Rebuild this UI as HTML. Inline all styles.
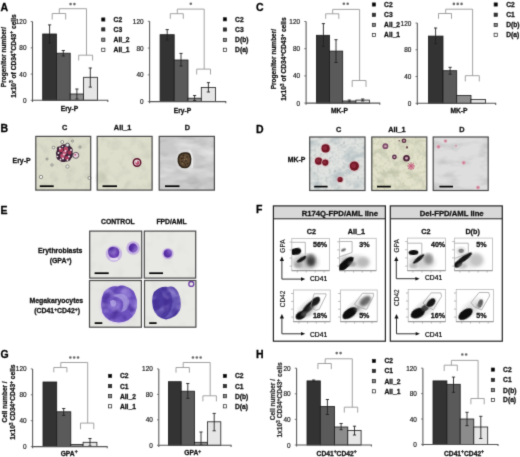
<!DOCTYPE html>
<html><head><meta charset="utf-8"><style>
html,body{margin:0;padding:0;background:#fff;}
svg{display:block;will-change:transform;}
</style></head><body>
<svg width="520" height="457" viewBox="0 0 520 457" font-family="'Liberation Sans', sans-serif">
<defs><filter id="gblur" x="0" y="0" width="520" height="457" filterUnits="userSpaceOnUse" color-interpolation-filters="sRGB"><feConvolveMatrix order="3" kernelMatrix="0.03 0.17 0.03 0.17 1 0.17 0.03 0.17 0.03" divisor="1.8" edgeMode="duplicate"/></filter><filter id="tB1" x="0" y="0" width="100%" height="100%" color-interpolation-filters="sRGB"><feTurbulence type="fractalNoise" baseFrequency="0.12 0.12" numOctaves="3" seed="5"/><feColorMatrix type="matrix" values="0 0 0 0 0.765  0 0 0 0 0.776  0 0 0 0 0.706  1.4 0 0 0 -0.62"/></filter><filter id="tB2" x="0" y="0" width="100%" height="100%" color-interpolation-filters="sRGB"><feTurbulence type="fractalNoise" baseFrequency="0.1 0.1" numOctaves="3" seed="8"/><feColorMatrix type="matrix" values="0 0 0 0 0.765  0 0 0 0 0.776  0 0 0 0 0.706  1.4 0 0 0 -0.62"/></filter><filter id="tB3" x="0" y="0" width="100%" height="100%" color-interpolation-filters="sRGB"><feTurbulence type="fractalNoise" baseFrequency="0.04 0.09" numOctaves="3" seed="11"/><feColorMatrix type="matrix" values="0 0 0 0 0.882  0 0 0 0 0.882  0 0 0 0 0.882  2.4 0 0 0 -1.0"/></filter><filter id="tB3d" x="0" y="0" width="100%" height="100%" color-interpolation-filters="sRGB"><feTurbulence type="fractalNoise" baseFrequency="0.05 0.1" numOctaves="3" seed="21"/><feColorMatrix type="matrix" values="0 0 0 0 0.686  0 0 0 0 0.686  0 0 0 0 0.686  2.0 0 0 0 -0.9"/></filter><filter id="tD1" x="0" y="0" width="100%" height="100%" color-interpolation-filters="sRGB"><feTurbulence type="fractalNoise" baseFrequency="0.07 0.1" numOctaves="4" seed="2"/><feColorMatrix type="matrix" values="0 0 0 0 0.627  0 0 0 0 0.686  0 0 0 0 0.714  1.9 0 0 0 -0.88"/></filter><filter id="tD1b" x="0" y="0" width="100%" height="100%" color-interpolation-filters="sRGB"><feTurbulence type="fractalNoise" baseFrequency="0.35 0.35" numOctaves="2" seed="4"/><feColorMatrix type="matrix" values="0 0 0 0 0.725  0 0 0 0 0.745  0 0 0 0 0.745  1.6 0 0 0 -0.75"/></filter><filter id="tD2" x="0" y="0" width="100%" height="100%" color-interpolation-filters="sRGB"><feTurbulence type="fractalNoise" baseFrequency="0.08 0.1" numOctaves="4" seed="7"/><feColorMatrix type="matrix" values="0 0 0 0 0.706  0 0 0 0 0.725  0 0 0 0 0.627  1.9 0 0 0 -0.88"/></filter><filter id="tD2b" x="0" y="0" width="100%" height="100%" color-interpolation-filters="sRGB"><feTurbulence type="fractalNoise" baseFrequency="0.35 0.35" numOctaves="2" seed="9"/><feColorMatrix type="matrix" values="0 0 0 0 0.765  0 0 0 0 0.753  0 0 0 0 0.647  1.6 0 0 0 -0.75"/></filter><filter id="tD3" x="0" y="0" width="100%" height="100%" color-interpolation-filters="sRGB"><feTurbulence type="fractalNoise" baseFrequency="0.05 0.12" numOctaves="3" seed="13"/><feColorMatrix type="matrix" values="0 0 0 0 0.765  0 0 0 0 0.765  0 0 0 0 0.765  2.2 0 0 0 -1.0"/></filter><filter id="tE" x="0" y="0" width="100%" height="100%" color-interpolation-filters="sRGB"><feTurbulence type="fractalNoise" baseFrequency="0.08 0.08" numOctaves="2" seed="17"/><feColorMatrix type="matrix" values="0 0 0 0 0.843  0 0 0 0 0.843  0 0 0 0 0.827  1.0 0 0 0 -0.5"/></filter><filter id="blur03"><feGaussianBlur stdDeviation="0.35"/></filter><filter id="blur06"><feGaussianBlur stdDeviation="0.6"/></filter><filter id="blur1"><feGaussianBlur stdDeviation="1"/></filter><filter id="blur15"><feGaussianBlur stdDeviation="1.5"/></filter><filter id="blur2"><feGaussianBlur stdDeviation="2"/></filter><filter id="mottle" x="0" y="0" width="100%" height="100%" color-interpolation-filters="sRGB"><feTurbulence type="fractalNoise" baseFrequency="0.11" numOctaves="2" seed="12" result="n"/><feColorMatrix in="n" type="matrix" values="0 0 0 0 0.25  0 0 0 0 0.15  0 0 0 0 0.55  1.8 0 0 0 -0.8" result="dk"/><feComposite in="dk" in2="SourceAlpha" operator="in" result="dk2"/><feTurbulence type="fractalNoise" baseFrequency="0.09" numOctaves="2" seed="31" result="n2"/><feColorMatrix in="n2" type="matrix" values="0 0 0 0 0.72  0 0 0 0 0.66  0 0 0 0 0.92  2.0 0 0 0 -0.95" result="lt"/><feComposite in="lt" in2="SourceAlpha" operator="in" result="lt2"/><feMerge><feMergeNode in="SourceGraphic"/><feMergeNode in="dk2"/><feMergeNode in="lt2"/></feMerge><feGaussianBlur stdDeviation="0.4"/></filter><filter id="grain" x="-20%" y="-20%" width="140%" height="140%"><feGaussianBlur in="SourceGraphic" stdDeviation="0.5" result="b"/><feTurbulence type="fractalNoise" baseFrequency="1.1" numOctaves="1" seed="4" result="n"/><feColorMatrix in="n" type="matrix" values="0 0 0 0 0  0 0 0 0 0  0 0 0 0 0  -3 0 0 0 2.3" result="m"/><feComposite in="b" in2="m" operator="in"/></filter><clipPath id="cp291238"><rect x="291.8" y="238.5" width="37.599999999999966" height="32.19999999999999"/></clipPath><clipPath id="cp339238"><rect x="339.4" y="238.3" width="36.80000000000001" height="32.39999999999998"/></clipPath><clipPath id="cp407238"><rect x="407.4" y="238.1" width="38.10000000000002" height="32.599999999999994"/></clipPath><clipPath id="cp454238"><rect x="454.4" y="238.1" width="38.10000000000002" height="32.599999999999994"/></clipPath><clipPath id="cp293290"><rect x="293.4" y="290.0" width="36.80000000000001" height="31.69999999999999"/></clipPath><clipPath id="cp340290"><rect x="340.4" y="290.0" width="36.80000000000001" height="31.69999999999999"/></clipPath><clipPath id="cp408289"><rect x="408.2" y="289.5" width="37.30000000000001" height="32.19999999999999"/></clipPath><clipPath id="cp456289"><rect x="456.2" y="289.5" width="37.30000000000001" height="32.19999999999999"/></clipPath></defs>
<rect width="520" height="457" fill="#fff"/>
<g filter="url(#gblur)">
<rect width="520" height="457" fill="#fff"/>
<rect x="42.7" y="34" width="13.699999999999996" height="66.3" fill="#333333" stroke="#1a1a1a" stroke-width="0.8"/>
<rect x="56.4" y="53.2" width="13.800000000000004" height="47.099999999999994" fill="#5a5a5a" stroke="#1a1a1a" stroke-width="0.8"/>
<rect x="70.2" y="94" width="13.399999999999991" height="6.299999999999997" fill="#8c8c8c" stroke="#1a1a1a" stroke-width="0.8"/>
<rect x="83.6" y="77.3" width="13.900000000000006" height="23.0" fill="#e6e6e6" stroke="#1a1a1a" stroke-width="0.8"/>
<path d="M49.6 24.9V43M48.0 24.9H51.2M48.0 43H51.2" stroke="#222" stroke-width="0.9" fill="none"/>
<path d="M63.3 50.5V56M61.699999999999996 50.5H64.89999999999999M61.699999999999996 56H64.89999999999999" stroke="#222" stroke-width="0.9" fill="none"/>
<path d="M76.9 89V99M75.30000000000001 89H78.5M75.30000000000001 99H78.5" stroke="#222" stroke-width="0.9" fill="none"/>
<path d="M90.3 68V87.1M88.7 68H91.89999999999999M88.7 87.1H91.89999999999999" stroke="#222" stroke-width="0.9" fill="none"/>
<path d="M32.5 21.6V101.89999999999999M32.5 100.3H107.8V101.89999999999999" stroke="#555" stroke-width="1.05" fill="none"/>
<path d="M30.7 100.30H32.5" stroke="#555" stroke-width="0.8"/>
<text transform="translate(26.50 102.80) scale(0.92 1)" font-size="7" text-anchor="end" font-weight="normal" fill="#1a1a1a" stroke="#1a1a1a" stroke-width="0.2">0</text>
<path d="M30.7 74.07H32.5" stroke="#555" stroke-width="0.8"/>
<text transform="translate(26.50 76.57) scale(0.92 1)" font-size="7" text-anchor="end" font-weight="normal" fill="#1a1a1a" stroke="#1a1a1a" stroke-width="0.2">40</text>
<path d="M30.7 47.83H32.5" stroke="#555" stroke-width="0.8"/>
<text transform="translate(26.50 50.33) scale(0.92 1)" font-size="7" text-anchor="end" font-weight="normal" fill="#1a1a1a" stroke="#1a1a1a" stroke-width="0.2">80</text>
<path d="M30.7 21.60H32.5" stroke="#555" stroke-width="0.8"/>
<text transform="translate(26.50 24.10) scale(0.92 1)" font-size="7" text-anchor="end" font-weight="normal" fill="#1a1a1a" stroke="#1a1a1a" stroke-width="0.2">120</text>
<path d="M52.2 19.5V13.5H65.7V19.5M59.3 13.5V8.7H86.5V55.2M78.7 60.5V55.2H92.6V60.5" stroke="#999" stroke-width="0.9" fill="none"/>
<circle cx="70.58" cy="4.1" r="1.3" fill="#6a6a6a"/>
<circle cx="74.42" cy="4.1" r="1.3" fill="#6a6a6a"/>
<rect x="101.7" y="17.9" width="3.2" height="3.2" fill="#000" stroke="#222" stroke-width="0.7"/>
<text x="113.6" y="21.9" font-size="6.7" text-anchor="start" font-weight="bold" fill="#111" stroke="#111" stroke-width="0.28" >C2</text>
<rect x="101.7" y="27.799999999999997" width="3.2" height="3.2" fill="#333" stroke="#222" stroke-width="0.7"/>
<text x="113.6" y="31.799999999999997" font-size="6.7" text-anchor="start" font-weight="bold" fill="#111" stroke="#111" stroke-width="0.28" >C3</text>
<rect x="101.7" y="38.1" width="3.2" height="3.2" fill="#888" stroke="#222" stroke-width="0.7"/>
<text x="113.6" y="42.1" font-size="6.7" text-anchor="start" font-weight="bold" fill="#111" stroke="#111" stroke-width="0.28" >AII_2</text>
<rect x="101.7" y="48.199999999999996" width="3.2" height="3.2" fill="#fff" stroke="#222" stroke-width="0.7"/>
<text x="113.6" y="52.199999999999996" font-size="6.7" text-anchor="start" font-weight="bold" fill="#111" stroke="#111" stroke-width="0.28" >AII_1</text>
<text x="69.5" y="111.3" font-size="6.7" text-anchor="middle" font-weight="bold" fill="#111" stroke="#111" stroke-width="0.28" >Ery-P</text>
<text transform="translate(5.6,57) rotate(-90)" font-size="6.5" text-anchor="middle" font-weight="bold" fill="#111" stroke="#111" stroke-width="0.25">Progenitor number/</text>
<text transform="translate(15.6,56) rotate(-90)" font-size="6.6" text-anchor="middle" font-weight="bold" fill="#111" stroke="#111" stroke-width="0.25">1x10<tspan font-size="5" dy="-2.4">3</tspan><tspan dy="2.4"> of CD34</tspan><tspan font-size="5" dy="-2.4">+</tspan><tspan dy="2.4">CD43</tspan><tspan font-size="5" dy="-2.4">+</tspan><tspan dy="2.4"> cells</tspan></text>
<rect x="160.1" y="34.7" width="14.099999999999994" height="66.89999999999999" fill="#333333" stroke="#1a1a1a" stroke-width="0.8"/>
<rect x="174.2" y="60" width="13.800000000000011" height="41.599999999999994" fill="#5a5a5a" stroke="#1a1a1a" stroke-width="0.8"/>
<rect x="188" y="98.2" width="13.300000000000011" height="3.3999999999999915" fill="#8c8c8c" stroke="#1a1a1a" stroke-width="0.8"/>
<rect x="201.3" y="87.5" width="14.199999999999989" height="14.099999999999994" fill="#e6e6e6" stroke="#1a1a1a" stroke-width="0.8"/>
<path d="M167.2 29.6V40M165.6 29.6H168.79999999999998M165.6 40H168.79999999999998" stroke="#222" stroke-width="0.9" fill="none"/>
<path d="M181 53.4V66M179.4 53.4H182.6M179.4 66H182.6" stroke="#222" stroke-width="0.9" fill="none"/>
<path d="M194.6 95.5V100.5M193.0 95.5H196.2M193.0 100.5H196.2" stroke="#222" stroke-width="0.9" fill="none"/>
<path d="M208.4 82.6V92M206.8 82.6H210.0M206.8 92H210.0" stroke="#222" stroke-width="0.9" fill="none"/>
<path d="M149.6 21.3V103.19999999999999M149.6 101.6H225.8V103.19999999999999" stroke="#555" stroke-width="1.05" fill="none"/>
<path d="M147.79999999999998 101.60H149.6" stroke="#555" stroke-width="0.8"/>
<text transform="translate(143.60 104.10) scale(0.92 1)" font-size="7" text-anchor="end" font-weight="normal" fill="#1a1a1a" stroke="#1a1a1a" stroke-width="0.2">0</text>
<path d="M147.79999999999998 74.83H149.6" stroke="#555" stroke-width="0.8"/>
<text transform="translate(143.60 77.33) scale(0.92 1)" font-size="7" text-anchor="end" font-weight="normal" fill="#1a1a1a" stroke="#1a1a1a" stroke-width="0.2">40</text>
<path d="M147.79999999999998 48.07H149.6" stroke="#555" stroke-width="0.8"/>
<text transform="translate(143.60 50.57) scale(0.92 1)" font-size="7" text-anchor="end" font-weight="normal" fill="#1a1a1a" stroke="#1a1a1a" stroke-width="0.2">80</text>
<path d="M147.79999999999998 21.30H149.6" stroke="#555" stroke-width="0.8"/>
<text transform="translate(143.60 23.80) scale(0.92 1)" font-size="7" text-anchor="end" font-weight="normal" fill="#1a1a1a" stroke="#1a1a1a" stroke-width="0.2">120</text>
<path d="M170.3 18.8V13.7H183.3V18.8M177.3 13.7V9.1H204.2V69.1M196.7 74.5V69.1H210.5V74.5" stroke="#999" stroke-width="0.9" fill="none"/>
<circle cx="190.80" cy="3.8" r="1.3" fill="#6a6a6a"/>
<rect x="223.3" y="17.7" width="3.2" height="3.2" fill="#000" stroke="#222" stroke-width="0.7"/>
<text x="235.1" y="21.7" font-size="6.7" text-anchor="start" font-weight="bold" fill="#111" stroke="#111" stroke-width="0.28" >C2</text>
<rect x="223.3" y="27.9" width="3.2" height="3.2" fill="#333" stroke="#222" stroke-width="0.7"/>
<text x="235.1" y="31.9" font-size="6.7" text-anchor="start" font-weight="bold" fill="#111" stroke="#111" stroke-width="0.28" >C3</text>
<rect x="223.3" y="38.3" width="3.2" height="3.2" fill="#888" stroke="#222" stroke-width="0.7"/>
<text x="235.1" y="42.3" font-size="6.7" text-anchor="start" font-weight="bold" fill="#111" stroke="#111" stroke-width="0.28" >D(b)</text>
<rect x="223.3" y="48.199999999999996" width="3.2" height="3.2" fill="#fff" stroke="#222" stroke-width="0.7"/>
<text x="235.1" y="52.199999999999996" font-size="6.7" text-anchor="start" font-weight="bold" fill="#111" stroke="#111" stroke-width="0.28" >D(a)</text>
<text x="182.5" y="112.7" font-size="6.7" text-anchor="middle" font-weight="bold" fill="#111" stroke="#111" stroke-width="0.28" >Ery-P</text>
<rect x="316.4" y="35.3" width="13.100000000000023" height="67.8" fill="#333333" stroke="#1a1a1a" stroke-width="0.8"/>
<rect x="329.5" y="51.1" width="13.199999999999989" height="51.99999999999999" fill="#5a5a5a" stroke="#1a1a1a" stroke-width="0.8"/>
<rect x="342.7" y="101" width="13.199999999999989" height="2.0999999999999943" fill="#8c8c8c" stroke="#1a1a1a" stroke-width="0.8"/>
<rect x="355.9" y="100.1" width="13.600000000000023" height="3.0" fill="#e6e6e6" stroke="#1a1a1a" stroke-width="0.8"/>
<path d="M323.4 23.6V46.4M321.79999999999995 23.6H325.0M321.79999999999995 46.4H325.0" stroke="#222" stroke-width="0.9" fill="none"/>
<path d="M336 39.7V62.5M334.4 39.7H337.6M334.4 62.5H337.6" stroke="#222" stroke-width="0.9" fill="none"/>
<path d="M349.3 100V102M347.7 100H350.90000000000003M347.7 102H350.90000000000003" stroke="#222" stroke-width="0.9" fill="none"/>
<path d="M362.7 99V101M361.09999999999997 99H364.3M361.09999999999997 101H364.3" stroke="#222" stroke-width="0.9" fill="none"/>
<path d="M306.1 21.5V104.69999999999999M306.1 103.1H379.8V104.69999999999999" stroke="#555" stroke-width="1.05" fill="none"/>
<path d="M304.3 103.10H306.1" stroke="#555" stroke-width="0.8"/>
<text transform="translate(300.10 105.60) scale(0.92 1)" font-size="7" text-anchor="end" font-weight="normal" fill="#1a1a1a" stroke="#1a1a1a" stroke-width="0.2">0</text>
<path d="M304.3 75.90H306.1" stroke="#555" stroke-width="0.8"/>
<text transform="translate(300.10 78.40) scale(0.92 1)" font-size="7" text-anchor="end" font-weight="normal" fill="#1a1a1a" stroke="#1a1a1a" stroke-width="0.2">40</text>
<path d="M304.3 48.70H306.1" stroke="#555" stroke-width="0.8"/>
<text transform="translate(300.10 51.20) scale(0.92 1)" font-size="7" text-anchor="end" font-weight="normal" fill="#1a1a1a" stroke="#1a1a1a" stroke-width="0.2">80</text>
<path d="M304.3 21.50H306.1" stroke="#555" stroke-width="0.8"/>
<text transform="translate(300.10 24.00) scale(0.92 1)" font-size="7" text-anchor="end" font-weight="normal" fill="#1a1a1a" stroke="#1a1a1a" stroke-width="0.2">120</text>
<path d="M325.7 18.8V13.8H338.8V18.8M332.7 13.8V9.4H359.6V80.5M352.2 86.9V80.5H366V86.9" stroke="#999" stroke-width="0.9" fill="none"/>
<circle cx="343.82" cy="3.8" r="1.3" fill="#6a6a6a"/>
<circle cx="347.68" cy="3.8" r="1.3" fill="#6a6a6a"/>
<rect x="372.29999999999995" y="2.9" width="3.2" height="3.2" fill="#000" stroke="#222" stroke-width="0.7"/>
<text x="384.1" y="6.9" font-size="6.7" text-anchor="start" font-weight="bold" fill="#111" stroke="#111" stroke-width="0.28" >C2</text>
<rect x="372.29999999999995" y="13.200000000000001" width="3.2" height="3.2" fill="#333" stroke="#222" stroke-width="0.7"/>
<text x="384.1" y="17.2" font-size="6.7" text-anchor="start" font-weight="bold" fill="#111" stroke="#111" stroke-width="0.28" >C3</text>
<rect x="372.29999999999995" y="23.299999999999997" width="3.2" height="3.2" fill="#888" stroke="#222" stroke-width="0.7"/>
<text x="384.1" y="27.299999999999997" font-size="6.7" text-anchor="start" font-weight="bold" fill="#111" stroke="#111" stroke-width="0.28" >AII_2</text>
<rect x="372.29999999999995" y="33.4" width="3.2" height="3.2" fill="#fff" stroke="#222" stroke-width="0.7"/>
<text x="384.1" y="37.4" font-size="6.7" text-anchor="start" font-weight="bold" fill="#111" stroke="#111" stroke-width="0.28" >AII_1</text>
<text x="339.5" y="113" font-size="6.7" text-anchor="middle" font-weight="bold" fill="#111" stroke="#111" stroke-width="0.28" >MK-P</text>
<text transform="translate(275.6,59.1) rotate(-90)" font-size="6.5" text-anchor="middle" font-weight="bold" fill="#111" stroke="#111" stroke-width="0.25">Progenitor number/</text>
<text transform="translate(286,59.1) rotate(-90)" font-size="6.6" text-anchor="middle" font-weight="bold" fill="#111" stroke="#111" stroke-width="0.25">1x10<tspan font-size="5" dy="-2.4">3</tspan><tspan dy="2.4"> of CD34</tspan><tspan font-size="5" dy="-2.4">+</tspan><tspan dy="2.4">CD43</tspan><tspan font-size="5" dy="-2.4">+</tspan><tspan dy="2.4"> cells</tspan></text>
<rect x="428.5" y="36.1" width="14.5" height="67.19999999999999" fill="#333333" stroke="#1a1a1a" stroke-width="0.8"/>
<rect x="443" y="70.7" width="13.699999999999989" height="32.599999999999994" fill="#5a5a5a" stroke="#1a1a1a" stroke-width="0.8"/>
<rect x="456.7" y="95.5" width="14.300000000000011" height="7.799999999999997" fill="#8c8c8c" stroke="#1a1a1a" stroke-width="0.8"/>
<rect x="471" y="99.5" width="14.399999999999977" height="3.799999999999997" fill="#e6e6e6" stroke="#1a1a1a" stroke-width="0.8"/>
<path d="M435.6 28V43.7M434.0 28H437.20000000000005M434.0 43.7H437.20000000000005" stroke="#222" stroke-width="0.9" fill="none"/>
<path d="M450.1 67.3V74.2M448.5 67.3H451.70000000000005M448.5 74.2H451.70000000000005" stroke="#222" stroke-width="0.9" fill="none"/>
<path d="M417.3 23V104.89999999999999M417.3 103.3H495.7V104.89999999999999" stroke="#555" stroke-width="1.05" fill="none"/>
<path d="M415.5 103.30H417.3" stroke="#555" stroke-width="0.8"/>
<text transform="translate(411.30 105.80) scale(0.92 1)" font-size="7" text-anchor="end" font-weight="normal" fill="#1a1a1a" stroke="#1a1a1a" stroke-width="0.2">0</text>
<path d="M415.5 76.53H417.3" stroke="#555" stroke-width="0.8"/>
<text transform="translate(411.30 79.03) scale(0.92 1)" font-size="7" text-anchor="end" font-weight="normal" fill="#1a1a1a" stroke="#1a1a1a" stroke-width="0.2">40</text>
<path d="M415.5 49.77H417.3" stroke="#555" stroke-width="0.8"/>
<text transform="translate(411.30 52.27) scale(0.92 1)" font-size="7" text-anchor="end" font-weight="normal" fill="#1a1a1a" stroke="#1a1a1a" stroke-width="0.2">80</text>
<path d="M415.5 23.00H417.3" stroke="#555" stroke-width="0.8"/>
<text transform="translate(411.30 25.50) scale(0.92 1)" font-size="7" text-anchor="end" font-weight="normal" fill="#1a1a1a" stroke="#1a1a1a" stroke-width="0.2">120</text>
<path d="M438.5 18.8V13.5H451.5V18.8M445.7 13.5V9.2H472.6V75.7M465.3 81.4V75.7H479.3V81.4" stroke="#999" stroke-width="0.9" fill="none"/>
<circle cx="453.85" cy="3.9" r="1.3" fill="#6a6a6a"/>
<circle cx="457.70" cy="3.9" r="1.3" fill="#6a6a6a"/>
<circle cx="461.55" cy="3.9" r="1.3" fill="#6a6a6a"/>
<rect x="494.09999999999997" y="2.9" width="3.2" height="3.2" fill="#000" stroke="#222" stroke-width="0.7"/>
<text x="506.2" y="6.9" font-size="6.7" text-anchor="start" font-weight="bold" fill="#111" stroke="#111" stroke-width="0.28" >C2</text>
<rect x="494.09999999999997" y="13.1" width="3.2" height="3.2" fill="#333" stroke="#222" stroke-width="0.7"/>
<text x="506.2" y="17.099999999999998" font-size="6.7" text-anchor="start" font-weight="bold" fill="#111" stroke="#111" stroke-width="0.28" >C1</text>
<rect x="494.09999999999997" y="23.4" width="3.2" height="3.2" fill="#888" stroke="#222" stroke-width="0.7"/>
<text x="506.2" y="27.4" font-size="6.7" text-anchor="start" font-weight="bold" fill="#111" stroke="#111" stroke-width="0.28" >D(b)</text>
<rect x="494.09999999999997" y="33.199999999999996" width="3.2" height="3.2" fill="#fff" stroke="#222" stroke-width="0.7"/>
<text x="506.2" y="37.199999999999996" font-size="6.7" text-anchor="start" font-weight="bold" fill="#111" stroke="#111" stroke-width="0.28" >D(a)</text>
<text x="459" y="113" font-size="6.7" text-anchor="middle" font-weight="bold" fill="#111" stroke="#111" stroke-width="0.28" >MK-P</text>
<rect x="43" y="382" width="13.700000000000003" height="64.60000000000002" fill="#333333" stroke="#1a1a1a" stroke-width="0.8"/>
<rect x="56.7" y="411.8" width="14.099999999999994" height="34.80000000000001" fill="#5a5a5a" stroke="#1a1a1a" stroke-width="0.8"/>
<rect x="70.8" y="444.6" width="12.299999999999997" height="2.0" fill="#8c8c8c" stroke="#1a1a1a" stroke-width="0.8"/>
<rect x="83.1" y="442.3" width="13.800000000000011" height="4.300000000000011" fill="#e6e6e6" stroke="#1a1a1a" stroke-width="0.8"/>
<path d="M63.7 408.5V415.4M62.1 408.5H65.3M62.1 415.4H65.3" stroke="#222" stroke-width="0.9" fill="none"/>
<path d="M90 438.5V446M88.4 438.5H91.6M88.4 446H91.6" stroke="#222" stroke-width="0.9" fill="none"/>
<path d="M32.6 368.9V448.20000000000005M32.6 446.6H107.2V448.20000000000005" stroke="#555" stroke-width="1.05" fill="none"/>
<path d="M30.8 446.60H32.6" stroke="#555" stroke-width="0.8"/>
<text transform="translate(26.60 449.10) scale(0.92 1)" font-size="7" text-anchor="end" font-weight="normal" fill="#1a1a1a" stroke="#1a1a1a" stroke-width="0.2">0</text>
<path d="M30.8 420.70H32.6" stroke="#555" stroke-width="0.8"/>
<text transform="translate(26.60 423.20) scale(0.92 1)" font-size="7" text-anchor="end" font-weight="normal" fill="#1a1a1a" stroke="#1a1a1a" stroke-width="0.2">40</text>
<path d="M30.8 394.80H32.6" stroke="#555" stroke-width="0.8"/>
<text transform="translate(26.60 397.30) scale(0.92 1)" font-size="7" text-anchor="end" font-weight="normal" fill="#1a1a1a" stroke="#1a1a1a" stroke-width="0.2">80</text>
<path d="M30.8 368.90H32.6" stroke="#555" stroke-width="0.8"/>
<text transform="translate(26.60 371.40) scale(0.92 1)" font-size="7" text-anchor="end" font-weight="normal" fill="#1a1a1a" stroke="#1a1a1a" stroke-width="0.2">120</text>
<path d="M53.8 372.3V367.5H66.9V372.3M60.8 367.5V362.5H87.7V423.1M80.5 429.2V423.1H93.8V429.2" stroke="#999" stroke-width="0.9" fill="none"/>
<circle cx="70.35" cy="357.5" r="1.3" fill="#6a6a6a"/>
<circle cx="74.20" cy="357.5" r="1.3" fill="#6a6a6a"/>
<circle cx="78.05" cy="357.5" r="1.3" fill="#6a6a6a"/>
<rect x="108.5" y="374.29999999999995" width="3.2" height="3.2" fill="#000" stroke="#222" stroke-width="0.7"/>
<text x="119.9" y="378.29999999999995" font-size="6.7" text-anchor="start" font-weight="bold" fill="#111" stroke="#111" stroke-width="0.28" >C2</text>
<rect x="108.5" y="384.5" width="3.2" height="3.2" fill="#333" stroke="#222" stroke-width="0.7"/>
<text x="119.9" y="388.5" font-size="6.7" text-anchor="start" font-weight="bold" fill="#111" stroke="#111" stroke-width="0.28" >C1</text>
<rect x="108.5" y="394.59999999999997" width="3.2" height="3.2" fill="#888" stroke="#222" stroke-width="0.7"/>
<text x="119.9" y="398.59999999999997" font-size="6.7" text-anchor="start" font-weight="bold" fill="#111" stroke="#111" stroke-width="0.28" >AII_2</text>
<rect x="108.5" y="404.7" width="3.2" height="3.2" fill="#fff" stroke="#222" stroke-width="0.7"/>
<text x="119.9" y="408.7" font-size="6.7" text-anchor="start" font-weight="bold" fill="#111" stroke="#111" stroke-width="0.28" >AII_1</text>
<text x="69.1" y="455.6" font-size="6.7" text-anchor="middle" font-weight="bold" fill="#111" stroke="#111" stroke-width="0.28" >GPA<tspan font-size="5" dy="-2.4">+</tspan></text>
<text transform="translate(6.6,401.9) rotate(-90)" font-size="6.5" text-anchor="middle" font-weight="bold" fill="#111" stroke="#111" stroke-width="0.25">Cell number /</text>
<text transform="translate(15.3,402.2) rotate(-90)" font-size="6.6" text-anchor="middle" font-weight="bold" fill="#111" stroke="#111" stroke-width="0.25">1x10<tspan font-size="5" dy="-2.4">3</tspan><tspan dy="2.4"> CD34</tspan><tspan font-size="5" dy="-2.4">+</tspan><tspan dy="2.4">CD43</tspan><tspan font-size="5" dy="-2.4">+</tspan><tspan dy="2.4"> cells</tspan></text>
<rect x="168.4" y="381.7" width="12.799999999999983" height="63.60000000000002" fill="#333333" stroke="#1a1a1a" stroke-width="0.8"/>
<rect x="181.2" y="391.2" width="13.300000000000011" height="54.10000000000002" fill="#5a5a5a" stroke="#1a1a1a" stroke-width="0.8"/>
<rect x="194.5" y="442.3" width="13.0" height="3.0" fill="#8c8c8c" stroke="#1a1a1a" stroke-width="0.8"/>
<rect x="207.5" y="421.8" width="13.300000000000011" height="23.5" fill="#e6e6e6" stroke="#1a1a1a" stroke-width="0.8"/>
<path d="M187.8 383.5V398.3M186.20000000000002 383.5H189.4M186.20000000000002 398.3H189.4" stroke="#222" stroke-width="0.9" fill="none"/>
<path d="M201 432V445M199.4 432H202.6M199.4 445H202.6" stroke="#222" stroke-width="0.9" fill="none"/>
<path d="M214.2 413.4V430.8M212.6 413.4H215.79999999999998M212.6 430.8H215.79999999999998" stroke="#222" stroke-width="0.9" fill="none"/>
<path d="M158.8 368.9V446.90000000000003M158.8 445.3H231.10000000000002V446.90000000000003" stroke="#555" stroke-width="1.05" fill="none"/>
<path d="M157.0 445.30H158.8" stroke="#555" stroke-width="0.8"/>
<text transform="translate(152.80 447.80) scale(0.92 1)" font-size="7" text-anchor="end" font-weight="normal" fill="#1a1a1a" stroke="#1a1a1a" stroke-width="0.2">0</text>
<path d="M157.0 419.83H158.8" stroke="#555" stroke-width="0.8"/>
<text transform="translate(152.80 422.33) scale(0.92 1)" font-size="7" text-anchor="end" font-weight="normal" fill="#1a1a1a" stroke="#1a1a1a" stroke-width="0.2">40</text>
<path d="M157.0 394.37H158.8" stroke="#555" stroke-width="0.8"/>
<text transform="translate(152.80 396.87) scale(0.92 1)" font-size="7" text-anchor="end" font-weight="normal" fill="#1a1a1a" stroke="#1a1a1a" stroke-width="0.2">80</text>
<path d="M157.0 368.90H158.8" stroke="#555" stroke-width="0.8"/>
<text transform="translate(152.80 371.40) scale(0.92 1)" font-size="7" text-anchor="end" font-weight="normal" fill="#1a1a1a" stroke="#1a1a1a" stroke-width="0.2">120</text>
<path d="M176 372.7V367.5H189.4V372.7M183.2 367.5V362.5H210.2V395.8M202.9 401.4V395.8H216.4V401.4" stroke="#999" stroke-width="0.9" fill="none"/>
<circle cx="192.95" cy="357.5" r="1.3" fill="#6a6a6a"/>
<circle cx="196.80" cy="357.5" r="1.3" fill="#6a6a6a"/>
<circle cx="200.65" cy="357.5" r="1.3" fill="#6a6a6a"/>
<rect x="223.3" y="374.29999999999995" width="3.2" height="3.2" fill="#000" stroke="#222" stroke-width="0.7"/>
<text x="234.9" y="378.29999999999995" font-size="6.7" text-anchor="start" font-weight="bold" fill="#111" stroke="#111" stroke-width="0.28" >C2</text>
<rect x="223.3" y="384.5" width="3.2" height="3.2" fill="#333" stroke="#222" stroke-width="0.7"/>
<text x="234.9" y="388.5" font-size="6.7" text-anchor="start" font-weight="bold" fill="#111" stroke="#111" stroke-width="0.28" >C1</text>
<rect x="223.3" y="394.59999999999997" width="3.2" height="3.2" fill="#888" stroke="#222" stroke-width="0.7"/>
<text x="234.9" y="398.59999999999997" font-size="6.7" text-anchor="start" font-weight="bold" fill="#111" stroke="#111" stroke-width="0.28" >D(b)</text>
<rect x="223.3" y="404.7" width="3.2" height="3.2" fill="#fff" stroke="#222" stroke-width="0.7"/>
<text x="234.9" y="408.7" font-size="6.7" text-anchor="start" font-weight="bold" fill="#111" stroke="#111" stroke-width="0.28" >D(a)</text>
<text x="192.7" y="455.4" font-size="6.7" text-anchor="middle" font-weight="bold" fill="#111" stroke="#111" stroke-width="0.28" >GPA<tspan font-size="5" dy="-2.4">+</tspan></text>
<rect x="307" y="380.9" width="13.300000000000011" height="64.10000000000002" fill="#333333" stroke="#1a1a1a" stroke-width="0.8"/>
<rect x="320.3" y="406.5" width="14.199999999999989" height="38.5" fill="#5a5a5a" stroke="#1a1a1a" stroke-width="0.8"/>
<rect x="334.5" y="427" width="13.300000000000011" height="18.0" fill="#8c8c8c" stroke="#1a1a1a" stroke-width="0.8"/>
<rect x="347.8" y="430.5" width="13.300000000000011" height="14.5" fill="#e6e6e6" stroke="#1a1a1a" stroke-width="0.8"/>
<path d="M313.6 380V381.5M312.0 380H315.20000000000005M312.0 381.5H315.20000000000005" stroke="#222" stroke-width="0.9" fill="none"/>
<path d="M327.4 399.5V414.5M325.79999999999995 399.5H329.0M325.79999999999995 414.5H329.0" stroke="#222" stroke-width="0.9" fill="none"/>
<path d="M341.1 423.5V429.7M339.5 423.5H342.70000000000005M339.5 429.7H342.70000000000005" stroke="#222" stroke-width="0.9" fill="none"/>
<path d="M354.5 426.2V435M352.9 426.2H356.1M352.9 435H356.1" stroke="#222" stroke-width="0.9" fill="none"/>
<path d="M296.6 368.2V446.6M296.6 445.0H371.40000000000003V446.6" stroke="#555" stroke-width="1.05" fill="none"/>
<path d="M294.8 445.00H296.6" stroke="#555" stroke-width="0.8"/>
<text transform="translate(290.60 447.50) scale(0.92 1)" font-size="7" text-anchor="end" font-weight="normal" fill="#1a1a1a" stroke="#1a1a1a" stroke-width="0.2">0</text>
<path d="M294.8 419.40H296.6" stroke="#555" stroke-width="0.8"/>
<text transform="translate(290.60 421.90) scale(0.92 1)" font-size="7" text-anchor="end" font-weight="normal" fill="#1a1a1a" stroke="#1a1a1a" stroke-width="0.2">40</text>
<path d="M294.8 393.80H296.6" stroke="#555" stroke-width="0.8"/>
<text transform="translate(290.60 396.30) scale(0.92 1)" font-size="7" text-anchor="end" font-weight="normal" fill="#1a1a1a" stroke="#1a1a1a" stroke-width="0.2">80</text>
<path d="M294.8 368.20H296.6" stroke="#555" stroke-width="0.8"/>
<text transform="translate(290.60 370.70) scale(0.92 1)" font-size="7" text-anchor="end" font-weight="normal" fill="#1a1a1a" stroke="#1a1a1a" stroke-width="0.2">20</text>
<path d="M317.9 369.1V363.5H331.3V369.1M325.2 363.5V358.8H352.3V407.2M344.3 412.6V407.2H357.7V412.6" stroke="#999" stroke-width="0.9" fill="none"/>
<circle cx="336.72" cy="353.1" r="1.3" fill="#6a6a6a"/>
<circle cx="340.57" cy="353.1" r="1.3" fill="#6a6a6a"/>
<rect x="372.29999999999995" y="359.29999999999995" width="3.2" height="3.2" fill="#000" stroke="#222" stroke-width="0.7"/>
<text x="384.4" y="363.29999999999995" font-size="6.7" text-anchor="start" font-weight="bold" fill="#111" stroke="#111" stroke-width="0.28" >C2</text>
<rect x="372.29999999999995" y="369.29999999999995" width="3.2" height="3.2" fill="#333" stroke="#222" stroke-width="0.7"/>
<text x="384.4" y="373.29999999999995" font-size="6.7" text-anchor="start" font-weight="bold" fill="#111" stroke="#111" stroke-width="0.28" >C1</text>
<rect x="372.29999999999995" y="379.59999999999997" width="3.2" height="3.2" fill="#888" stroke="#222" stroke-width="0.7"/>
<text x="384.4" y="383.59999999999997" font-size="6.7" text-anchor="start" font-weight="bold" fill="#111" stroke="#111" stroke-width="0.28" >AII_2</text>
<rect x="372.29999999999995" y="389.7" width="3.2" height="3.2" fill="#fff" stroke="#222" stroke-width="0.7"/>
<text x="384.4" y="393.7" font-size="6.7" text-anchor="start" font-weight="bold" fill="#111" stroke="#111" stroke-width="0.28" >AII_1</text>
<text x="336.6" y="455.5" font-size="6.7" text-anchor="middle" font-weight="bold" fill="#111" stroke="#111" stroke-width="0.28" >CD41<tspan font-size="5" dy="-2.4">+</tspan><tspan dy="2.4">CD42</tspan><tspan font-size="5" dy="-2.4">+</tspan></text>
<text transform="translate(274.6,399.6) rotate(-90)" font-size="6.5" text-anchor="middle" font-weight="bold" fill="#333" stroke="#333" stroke-width="0.25">Cell number /</text>
<text transform="translate(282.3,399.9) rotate(-90)" font-size="6.6" text-anchor="middle" font-weight="bold" fill="#333" stroke="#333" stroke-width="0.25">1x10<tspan font-size="5" dy="-2.4">3</tspan><tspan dy="2.4"> CD34</tspan><tspan font-size="5" dy="-2.4">+</tspan><tspan dy="2.4">CD43</tspan><tspan font-size="5" dy="-2.4">+</tspan><tspan dy="2.4"> cells</tspan></text>
<rect x="433" y="380.9" width="13.899999999999977" height="63.5" fill="#333333" stroke="#1a1a1a" stroke-width="0.8"/>
<rect x="446.9" y="384.3" width="13.300000000000011" height="60.099999999999966" fill="#5a5a5a" stroke="#1a1a1a" stroke-width="0.8"/>
<rect x="460.2" y="419" width="13.600000000000023" height="25.399999999999977" fill="#8c8c8c" stroke="#1a1a1a" stroke-width="0.8"/>
<rect x="473.8" y="427" width="13.899999999999977" height="17.399999999999977" fill="#e6e6e6" stroke="#1a1a1a" stroke-width="0.8"/>
<path d="M453.5 377.1V392.3M451.9 377.1H455.1M451.9 392.3H455.1" stroke="#222" stroke-width="0.9" fill="none"/>
<path d="M467 412.3V425.7M465.4 412.3H468.6M465.4 425.7H468.6" stroke="#222" stroke-width="0.9" fill="none"/>
<path d="M480.8 416.3V438.5M479.2 416.3H482.40000000000003M479.2 438.5H482.40000000000003" stroke="#222" stroke-width="0.9" fill="none"/>
<path d="M422.9 368.2V446.0M422.9 444.4H498.0V446.0" stroke="#555" stroke-width="1.05" fill="none"/>
<path d="M421.09999999999997 444.40H422.9" stroke="#555" stroke-width="0.8"/>
<text transform="translate(416.90 446.90) scale(0.92 1)" font-size="7" text-anchor="end" font-weight="normal" fill="#1a1a1a" stroke="#1a1a1a" stroke-width="0.2">0</text>
<path d="M421.09999999999997 419.00H422.9" stroke="#555" stroke-width="0.8"/>
<text transform="translate(416.90 421.50) scale(0.92 1)" font-size="7" text-anchor="end" font-weight="normal" fill="#1a1a1a" stroke="#1a1a1a" stroke-width="0.2">40</text>
<path d="M421.09999999999997 393.60H422.9" stroke="#555" stroke-width="0.8"/>
<text transform="translate(416.90 396.10) scale(0.92 1)" font-size="7" text-anchor="end" font-weight="normal" fill="#1a1a1a" stroke="#1a1a1a" stroke-width="0.2">80</text>
<path d="M421.09999999999997 368.20H422.9" stroke="#555" stroke-width="0.8"/>
<text transform="translate(416.90 370.70) scale(0.92 1)" font-size="7" text-anchor="end" font-weight="normal" fill="#1a1a1a" stroke="#1a1a1a" stroke-width="0.2">120</text>
<path d="M444.2 371V365.2H457.3V371M451.4 365.2V360.4H478.1V398.5M470.9 404.3V398.5H484.2V404.3" stroke="#999" stroke-width="0.9" fill="none"/>
<circle cx="462.32" cy="354.5" r="1.3" fill="#6a6a6a"/>
<circle cx="466.18" cy="354.5" r="1.3" fill="#6a6a6a"/>
<rect x="491.29999999999995" y="368.0" width="3.2" height="3.2" fill="#000" stroke="#222" stroke-width="0.7"/>
<text x="503.1" y="372.0" font-size="6.7" text-anchor="start" font-weight="bold" fill="#111" stroke="#111" stroke-width="0.28" >C2</text>
<rect x="491.29999999999995" y="378.29999999999995" width="3.2" height="3.2" fill="#333" stroke="#222" stroke-width="0.7"/>
<text x="503.1" y="382.29999999999995" font-size="6.7" text-anchor="start" font-weight="bold" fill="#111" stroke="#111" stroke-width="0.28" >C1</text>
<rect x="491.29999999999995" y="388.5" width="3.2" height="3.2" fill="#888" stroke="#222" stroke-width="0.7"/>
<text x="503.1" y="392.5" font-size="6.7" text-anchor="start" font-weight="bold" fill="#111" stroke="#111" stroke-width="0.28" >D(b)</text>
<rect x="491.29999999999995" y="398.4" width="3.2" height="3.2" fill="#fff" stroke="#222" stroke-width="0.7"/>
<text x="503.1" y="402.4" font-size="6.7" text-anchor="start" font-weight="bold" fill="#111" stroke="#111" stroke-width="0.28" >D(a)</text>
<text x="464" y="455.5" font-size="6.7" text-anchor="middle" font-weight="bold" fill="#111" stroke="#111" stroke-width="0.28" >CD41<tspan font-size="5" dy="-2.4">+</tspan><tspan dy="2.4">CD42</tspan><tspan font-size="5" dy="-2.4">+</tspan></text>
<text x="64.7" y="129.9" font-size="7.3" text-anchor="middle" font-weight="bold" fill="#111" stroke="#111" stroke-width="0.28" >C</text>
<text x="122.6" y="129.9" font-size="7.3" text-anchor="middle" font-weight="bold" fill="#111" stroke="#111" stroke-width="0.28" >AII_1</text>
<text x="187.5" y="129.9" font-size="7.3" text-anchor="middle" font-weight="bold" fill="#111" stroke="#111" stroke-width="0.28" >D</text>
<text x="21.6" y="162.6" font-size="6.9" text-anchor="middle" font-weight="bold" fill="#111" stroke="#111" stroke-width="0.28" >Ery-P</text>
<g>
<rect x="35.8" y="136.4" width="54.900000000000006" height="53.69999999999999" fill="#dcdccb"/>
<rect x="35.8" y="136.4" width="54.900000000000006" height="53.69999999999999" filter="url(#tB1)"/>
<circle cx="62.2" cy="142" r="1.5" fill="#f4f4f0" stroke="#6a6a64" stroke-width="0.7" filter="url(#blur03)"/><circle cx="53.5" cy="147.5" r="1.3" fill="#f4f4f0" stroke="#6a6a64" stroke-width="0.7" filter="url(#blur03)"/><circle cx="67.5" cy="166.5" r="1.6" fill="#f4f4f0" stroke="#6a6a64" stroke-width="0.7" filter="url(#blur03)"/><circle cx="41" cy="177" r="1.7" fill="#f4f4f0" stroke="#6a6a64" stroke-width="0.7" filter="url(#blur03)"/><circle cx="89.5" cy="178" r="1.5" fill="#f4f4f0" stroke="#6a6a64" stroke-width="0.7" filter="url(#blur03)"/><circle cx="52" cy="165" r="1.2" fill="#f4f4f0" stroke="#6a6a64" stroke-width="0.7" filter="url(#blur03)"/><circle cx="72.5" cy="141" r="1" fill="#f4f4f0" stroke="#6a6a64" stroke-width="0.7" filter="url(#blur03)"/><circle cx="80" cy="147" r="1.1" fill="#f4f4f0" stroke="#6a6a64" stroke-width="0.7" filter="url(#blur03)"/><circle cx="47" cy="159" r="1" fill="#f4f4f0" stroke="#6a6a64" stroke-width="0.7" filter="url(#blur03)"/><g filter="url(#blur03)"><path d="M57 150 Q56 146 60 146.5 Q62 143.5 65.5 144.5 Q69 143 70.5 146.5 Q73.5 148 72.5 152 Q74 156 71 158.5 Q70 162 66 161.5 Q62 163 59.5 160.5 Q56 159.5 56.5 156 Q55 153 57 150Z" fill="#3a2438"/><circle cx="61" cy="150" r="2.3" fill="#a83858"/><circle cx="66" cy="149" r="2.3" fill="#b84868"/><circle cx="69.5" cy="152.5" r="2.1" fill="#9a3050"/><circle cx="62.5" cy="156" r="2.4" fill="#b85070"/><circle cx="67" cy="158" r="2.1" fill="#a83858"/><circle cx="64.5" cy="153" r="2.2" fill="#c05878"/><circle cx="60" cy="148.5" r="1.1" fill="#f0dce6"/><circle cx="65.5" cy="151" r="1.0" fill="#f0dce6"/><circle cx="63" cy="158.5" r="1.1" fill="#f0dce6"/><circle cx="69" cy="156.5" r="1.0" fill="#f0dce6"/><circle cx="58.5" cy="153" r="1.0" fill="#f0dce6"/><circle cx="71" cy="150" r="1.0" fill="#f0dce6"/><circle cx="66.5" cy="146" r="1.1" fill="#f0dce6"/><circle cx="60.5" cy="159.5" r="0.9" fill="#f0dce6"/><circle cx="64" cy="154.5" r="0.9" fill="#f0dce6"/><circle cx="67.5" cy="160" r="0.9" fill="#f0dce6"/><circle cx="57.5" cy="156.5" r="0.8" fill="#f0dce6"/><circle cx="62.5" cy="146.5" r="0.8" fill="#f0dce6"/><circle cx="75.8" cy="155.3" r="3" fill="#e8d8e0" stroke="#4a3a48" stroke-width="0.8"/><circle cx="75.3" cy="154.8" r="1" fill="#c06080"/><circle cx="67.5" cy="145" r="1.8" fill="#eee" stroke="#3a3040" stroke-width="0.8"/></g>
<rect x="35.8" y="136.4" width="54.900000000000006" height="53.69999999999999" fill="none" stroke="#4a4a4a" stroke-width="1.2"/>
</g>
<rect x="39.8" y="185.35" width="13.900000000000006" height="1.7" fill="#000"/>
<g>
<rect x="97.2" y="136.4" width="54.89999999999999" height="53.69999999999999" fill="#dedecd"/>
<rect x="97.2" y="136.4" width="54.89999999999999" height="53.69999999999999" filter="url(#tB2)"/>
<ellipse cx="101" cy="178" rx="5" ry="6" fill="#b8bca8" opacity="0.45" filter="url(#blur15)"/><g filter="url(#blur03)"><circle cx="137" cy="162.5" r="4.4" fill="#e8d8dc"/><circle cx="137" cy="162.5" r="3.7" fill="none" stroke="#5a1028" stroke-width="1.5"/><circle cx="137.3" cy="162.8" r="2.1" fill="#b84868"/><circle cx="136.4" cy="161.8" r="0.9" fill="#f4e8ee"/></g>
<rect x="97.2" y="136.4" width="54.89999999999999" height="53.69999999999999" fill="none" stroke="#4a4a4a" stroke-width="1.2"/>
</g>
<rect x="102.5" y="185.35" width="14.5" height="1.7" fill="#000"/>
<g>
<rect x="159.2" y="136.4" width="55.20000000000002" height="53.69999999999999" fill="#c9c9c9"/>
<rect x="159.2" y="136.4" width="55.20000000000002" height="53.69999999999999" filter="url(#tB3d)"/>
<rect x="159.2" y="136.4" width="55.20000000000002" height="53.69999999999999" filter="url(#tB3)"/>
<ellipse cx="185" cy="160" rx="9" ry="10.5" fill="#dedede" filter="url(#blur1)"/><path d="M189 150 Q194 156 192 168" stroke="#eee" stroke-width="1.2" fill="none" filter="url(#blur06)"/><g filter="url(#blur03)"><path d="M179 154.5 Q182 151.5 186 152.3 Q189.5 152 190.8 155.5 Q192 159 191 163 Q190 167.5 186 168.3 Q181.5 168.8 179 165.5 Q177 162 177.6 158.5 Q178 156 179 154.5Z" fill="#2e2418"/><path d="M180.3 155.5 Q183 153.3 186 153.8 Q189 154 189.6 157 Q190.5 160 189.6 163 Q188.5 166.5 185.5 166.8 Q182 167 180.4 164.5 Q179 162 179.2 159 Q179.4 157 180.3 155.5Z" fill="#5e4c36"/></g><circle cx="183" cy="158" r="0.75" fill="#2e2214"/><circle cx="186" cy="161" r="0.75" fill="#2e2214"/><circle cx="184" cy="163" r="0.75" fill="#2e2214"/><circle cx="187" cy="157" r="0.75" fill="#2e2214"/><circle cx="182" cy="161.5" r="0.75" fill="#2e2214"/><circle cx="185.5" cy="165" r="0.75" fill="#2e2214"/><circle cx="183.5" cy="155.5" r="0.75" fill="#2e2214"/><circle cx="181.5" cy="158.5" r="0.75" fill="#2e2214"/><circle cx="187.5" cy="163.5" r="0.75" fill="#2e2214"/><circle cx="184.5" cy="159.5" r="0.6" fill="#9a8460"/><circle cx="186.5" cy="159" r="0.6" fill="#9a8460"/><circle cx="182.8" cy="163.5" r="0.6" fill="#9a8460"/><circle cx="185" cy="157" r="0.6" fill="#9a8460"/>
<rect x="159.2" y="136.4" width="55.20000000000002" height="53.69999999999999" fill="none" stroke="#4a4a4a" stroke-width="1.2"/>
</g>
<rect x="165" y="185.35" width="14.5" height="1.7" fill="#000"/>
<text x="338.6" y="131.7" font-size="7.3" text-anchor="middle" font-weight="bold" fill="#111" stroke="#111" stroke-width="0.28" >C</text>
<text x="396.9" y="131.9" font-size="7.3" text-anchor="middle" font-weight="bold" fill="#111" stroke="#111" stroke-width="0.28" >AII_1</text>
<text x="461.8" y="131.9" font-size="7.3" text-anchor="middle" font-weight="bold" fill="#111" stroke="#111" stroke-width="0.28" >D</text>
<text x="296.5" y="162.2" font-size="6.9" text-anchor="middle" font-weight="bold" fill="#111" stroke="#111" stroke-width="0.28" >MK-P</text>
<g>
<rect x="309.7" y="137" width="55.30000000000001" height="53.5" fill="#dfe2df"/>
<rect x="309.7" y="137" width="55.30000000000001" height="53.5" filter="url(#tD1)"/>
<rect x="309.7" y="137" width="55.30000000000001" height="53.5" filter="url(#tD1b)"/>
<g filter="url(#blur03)"><circle cx="325.6" cy="148.4" r="5.1" fill="#d8a8b0" opacity="0.7"/><circle cx="325.6" cy="148.4" r="4.1" fill="#6e1424"/><circle cx="325.0" cy="148.0" r="2.255" fill="#8c2838"/></g><g filter="url(#blur03)"><circle cx="318.6" cy="161.1" r="4.6" fill="#d8a8b0" opacity="0.7"/><circle cx="318.6" cy="161.1" r="3.6" fill="#6e1424"/><circle cx="318.0" cy="160.7" r="1.9800000000000002" fill="#8c2838"/></g><g filter="url(#blur03)"><circle cx="325.3" cy="162.6" r="4.1" fill="#d8a8b0" opacity="0.7"/><circle cx="325.3" cy="162.6" r="3.1" fill="#6e1424"/><circle cx="324.7" cy="162.2" r="1.7050000000000003" fill="#8c2838"/></g><g filter="url(#blur03)"><circle cx="354.3" cy="166.1" r="5.6" fill="#d8a8b0" opacity="0.7"/><circle cx="354.3" cy="166.1" r="4.6" fill="#6e1424"/><circle cx="353.7" cy="165.7" r="2.53" fill="#8c2838"/></g><g filter="url(#blur03)"><circle cx="340.1" cy="179.5" r="3.6" fill="#d8a8b0" opacity="0.7"/><circle cx="340.1" cy="179.5" r="2.6" fill="#6e1424"/><circle cx="339.5" cy="179.1" r="1.4300000000000002" fill="#8c2838"/></g><g filter="url(#blur03)" fill="#555a60" opacity="0.8"><circle cx="330" cy="158" r="0.6"/><circle cx="344" cy="143" r="0.5"/><circle cx="321" cy="154" r="0.5"/><circle cx="335" cy="171" r="0.5"/></g>
<rect x="309.7" y="137" width="55.30000000000001" height="53.5" fill="none" stroke="#4a4a4a" stroke-width="1.2"/>
</g>
<rect x="314.2" y="185.75" width="13.400000000000034" height="1.7" fill="#000"/>
<g>
<rect x="371.8" y="137" width="55.0" height="53.5" fill="#e2e2cc"/>
<rect x="371.8" y="137" width="55.0" height="53.5" filter="url(#tD2)"/>
<rect x="371.8" y="137" width="55.0" height="53.5" filter="url(#tD2b)"/>
<g filter="url(#blur03)"><circle cx="385.4" cy="146.2" r="2.9" fill="#7a4a68"/><circle cx="385.4" cy="146.2" r="1.305" fill="#c8a0b0"/></g><g filter="url(#blur03)"><circle cx="394.4" cy="157" r="2.4" fill="#5a3048"/><circle cx="394.4" cy="157" r="1.08" fill="#c8a0b0"/></g><g filter="url(#blur03)"><circle cx="406.5" cy="158.2" r="3.3" fill="#4a2038"/><circle cx="406.5" cy="158.2" r="1.4849999999999999" fill="#c8a0b0"/></g><g filter="url(#blur03)"><circle cx="404" cy="140.8" r="2.3" fill="#5a3040"/><circle cx="404" cy="140.8" r="1.035" fill="#c8a0b0"/></g><g filter="url(#blur03)"><circle cx="407" cy="147.4" r="1.1" fill="#4a2a30"/><circle cx="407" cy="147.4" r="0.49500000000000005" fill="#c8a0b0"/></g><g filter="url(#blur03)"><circle cx="399.2" cy="140.8" r="0.8" fill="#6a4050"/><circle cx="399.2" cy="140.8" r="0.36000000000000004" fill="#c8a0b0"/></g><g filter="url(#blur03)"><circle cx="411.3" cy="166.6" r="3.2" fill="#d890a0" opacity="0.8"/></g><g filter="url(#blur03)" stroke="#b85070" stroke-width="0.6"><path d="M408 163l6 6M414 163l-6 6M411 162v8M407 166h8"/></g>
<rect x="371.8" y="137" width="55.0" height="53.5" fill="none" stroke="#4a4a4a" stroke-width="1.2"/>
</g>
<rect x="377" y="185.75" width="13.800000000000011" height="1.7" fill="#000"/>
<g>
<rect x="433.2" y="137" width="55.0" height="53.5" fill="#dedede"/>
<rect x="433.2" y="137" width="55.0" height="53.5" filter="url(#tD3)"/>
<g filter="url(#blur03)"><circle cx="438.5" cy="146.7" r="2" fill="#dca0b0"/><circle cx="438.5" cy="146.7" r="1.0" fill="#c87890"/></g><g filter="url(#blur03)"><circle cx="445.5" cy="141" r="1.8" fill="#dca0b0"/><circle cx="445.5" cy="141" r="0.9" fill="#c87890"/></g><g filter="url(#blur03)"><circle cx="463.7" cy="162.7" r="2" fill="#dca0b0"/><circle cx="463.7" cy="162.7" r="1.0" fill="#c87890"/></g><g filter="url(#blur03)"><circle cx="478" cy="187.5" r="2" fill="#dca0b0"/><circle cx="478" cy="187.5" r="1.0" fill="#c87890"/></g><g filter="url(#blur03)"><circle cx="456" cy="145.8" r="1" fill="#dca0b0"/><circle cx="456" cy="145.8" r="0.5" fill="#c87890"/></g>
<rect x="433.2" y="137" width="55.0" height="53.5" fill="none" stroke="#4a4a4a" stroke-width="1.2"/>
</g>
<rect x="439.4" y="185.75" width="13.600000000000023" height="1.7" fill="#000"/>
<text x="117.8" y="224.3" font-size="6.8" text-anchor="middle" font-weight="bold" fill="#111" stroke="#111" stroke-width="0.28" >CONTROL</text>
<text x="171.5" y="224.3" font-size="6.8" text-anchor="middle" font-weight="bold" fill="#111" stroke="#111" stroke-width="0.28" >FPD/AML</text>
<text x="60.2" y="253.0" font-size="6.9" text-anchor="middle" font-weight="bold" fill="#111" stroke="#111" stroke-width="0.28" >Erythroblasts</text>
<text x="60.7" y="263.2" font-size="6.9" text-anchor="middle" font-weight="bold" fill="#111" stroke="#111" stroke-width="0.28" >(GPA<tspan font-size="5" dy="-2.4">+</tspan><tspan dy="2.4">)</tspan></text>
<text x="56.3" y="303.1" font-size="6.9" text-anchor="middle" font-weight="bold" fill="#111" stroke="#111" stroke-width="0.28" >Megakaryocytes</text>
<text x="57.1" y="313.2" font-size="6.9" text-anchor="middle" font-weight="bold" fill="#111" stroke="#111" stroke-width="0.28" >(CD41<tspan font-size="5" dy="-2.4">+</tspan><tspan dy="2.4">CD42</tspan><tspan font-size="5" dy="-2.4">+</tspan><tspan dy="2.4">)</tspan></text>
<g>
<rect x="89.7" y="231.1" width="51.999999999999986" height="47.00000000000003" fill="#e7e7e3"/>
<rect x="89.7" y="231.1" width="51.999999999999986" height="47.00000000000003" filter="url(#tE)"/>
<g filter="url(#blur06)"><circle cx="113.9" cy="253.8" r="8.2" fill="#c8b6e2"/><ellipse cx="114" cy="258.8" rx="4.2" ry="1.6" fill="#e4daf2"/><circle cx="133.1" cy="248" r="6.8" fill="#c4b0e0"/></g><g filter="url(#mottle)"><path d="M108 252 Q108 247 113 246.8 Q119 247 119.3 252.5 Q119 257.5 113.5 258 Q108.2 257.5 108 252Z" fill="#6a3cb2"/><circle cx="133.1" cy="248" r="4.4" fill="#5e30aa"/></g>
<rect x="89.7" y="231.1" width="51.999999999999986" height="47.00000000000003" fill="none" stroke="#4a4a4a" stroke-width="1.2"/>
</g>
<rect x="94.6" y="272.34999999999997" width="14.100000000000009" height="1.7" fill="#000"/>
<g>
<rect x="144.3" y="231.1" width="51.39999999999998" height="47.00000000000003" fill="#e8e8e4"/>
<rect x="144.3" y="231.1" width="51.39999999999998" height="47.00000000000003" filter="url(#tE)"/>
<g filter="url(#blur06)"><circle cx="167.9" cy="253.6" r="5.7" fill="#c6b2e0"/></g><g filter="url(#mottle)"><circle cx="167.8" cy="253.4" r="4.2" fill="#5e30aa"/></g>
<rect x="144.3" y="231.1" width="51.39999999999998" height="47.00000000000003" fill="none" stroke="#4a4a4a" stroke-width="1.2"/>
</g>
<rect x="149.2" y="272.34999999999997" width="13.800000000000011" height="1.7" fill="#000"/>
<g>
<rect x="89.5" y="280.5" width="51.900000000000006" height="46.69999999999999" fill="#e6e6e2"/>
<rect x="89.5" y="280.5" width="51.900000000000006" height="46.69999999999999" filter="url(#tE)"/>
<ellipse cx="118.5" cy="304.5" rx="18.5" ry="19.5" fill="#dcd2ea" filter="url(#blur1)"/><g filter="url(#mottle)"><path d="M104 292 Q110 285 118 286.5 Q122 284.5 127 287 Q134 289 136 297 Q138.5 305 135 313 Q130 322 119 322.5 Q107 322 102.5 313 Q99.5 301 104 292Z" fill="#6e52be"/><path d="M113 296 Q119 292 125 295 Q130 299 129 305 Q127 311 121 312 Q124 307 123 302 Q120 297 113 296Z" fill="#9c8cd6"/><path d="M110 301 Q113 299 116 301 Q117 305 114 307 Q110 306 110 301Z" fill="#a898dc"/></g>
<rect x="89.5" y="280.5" width="51.900000000000006" height="46.69999999999999" fill="none" stroke="#4a4a4a" stroke-width="1.2"/>
</g>
<rect x="94.7" y="322.25" width="7.599999999999994" height="1.7" fill="#000"/>
<g>
<rect x="144.5" y="280.5" width="51.400000000000006" height="46.69999999999999" fill="#e8e8e4"/>
<rect x="144.5" y="280.5" width="51.400000000000006" height="46.69999999999999" filter="url(#tE)"/>
<g filter="url(#mottle)"><path d="M154 292 Q160 286 168 287 Q174 285 178 292 Q182 300 180 310 Q176 318 166 319.5 Q156 318 153 308 Q151 298 154 292Z" fill="#4c3a9e"/><path d="M168 289 Q174 296 172 306 Q170 314 164 318.5 Q173 318 177 310 Q181 300 175 292Z" fill="#6658b4"/></g><circle cx="191.3" cy="284" r="2.5" fill="none" stroke="#7040a8" stroke-width="1.3" filter="url(#blur03)"/>
<rect x="144.5" y="280.5" width="51.400000000000006" height="46.69999999999999" fill="none" stroke="#4a4a4a" stroke-width="1.2"/>
</g>
<rect x="149.2" y="322.25" width="7.400000000000006" height="1.7" fill="#000"/>
<rect x="273.4" y="205.9" width="112.0" height="12.8" fill="#d8d8d8"/>
<rect x="273.4" y="205.9" width="112.0" height="135.3" fill="none" stroke="#222" stroke-width="1.2"/>
<path d="M273.4 218.8H385.4" stroke="#222" stroke-width="1.0"/>
<text x="339.8" y="216.2" font-size="7.7" text-anchor="middle" font-weight="bold" fill="#111" stroke="#111" stroke-width="0.28" >R174Q-FPD/AML line</text>
<rect x="390.3" y="205.9" width="112.0" height="12.8" fill="#d8d8d8"/>
<rect x="390.3" y="205.9" width="112.0" height="135.3" fill="none" stroke="#222" stroke-width="1.2"/>
<path d="M390.3 218.8H502.3" stroke="#222" stroke-width="1.0"/>
<text x="451.7" y="216.2" font-size="7.7" text-anchor="middle" font-weight="bold" fill="#111" stroke="#111" stroke-width="0.28" >Del-FPD/AML line</text>
<text x="311.3" y="234.0" font-size="7.2" text-anchor="middle" font-weight="bold" fill="#111" stroke="#111" stroke-width="0.28" >C2</text>
<text x="356.3" y="234.0" font-size="7.2" text-anchor="middle" font-weight="bold" fill="#111" stroke="#111" stroke-width="0.28" >AII_1</text>
<text x="425.9" y="234.0" font-size="7.2" text-anchor="middle" font-weight="bold" fill="#111" stroke="#111" stroke-width="0.28" >C2</text>
<text x="472.6" y="234.0" font-size="7.2" text-anchor="middle" font-weight="bold" fill="#111" stroke="#111" stroke-width="0.28" >D(b)</text>
<g>
<rect x="291.8" y="238.5" width="37.599999999999966" height="32.19999999999999" fill="#fff" stroke="#b8b8b8" stroke-width="0.8"/>
<g clip-path="url(#cp291238)"><ellipse cx="305" cy="262" rx="13" ry="7" transform="rotate(0 305 262)" fill="#999" opacity="0.45" filter="url(#blur2)"/><ellipse cx="306" cy="262" rx="12" ry="7" transform="rotate(0 306 262)" fill="#bbb" opacity="0.6" filter="url(#blur2)"/><ellipse cx="310.8" cy="260.5" rx="5" ry="6.5" transform="rotate(0 310.8 260.5)" fill="#555" opacity="0.85" filter="url(#blur15)"/><ellipse cx="311" cy="261.5" rx="3" ry="3.5" transform="rotate(0 311 261.5)" fill="#333" opacity="0.8" filter="url(#blur1)"/><ellipse cx="296.5" cy="251.3" rx="4.7" ry="3.4" transform="rotate(-10 296.5 251.3)" fill="#0e0e0e" opacity="1" filter="url(#blur06)"/><ellipse cx="293.5" cy="252" rx="2" ry="3" transform="rotate(0 293.5 252)" fill="#111" opacity="1" filter="url(#blur03)"/><ellipse cx="301.5" cy="259.3" rx="5.6" ry="1.9" transform="rotate(-33 301.5 259.3)" fill="#151515" opacity="1" filter="url(#blur06)"/><ellipse cx="298" cy="265" rx="4" ry="3" transform="rotate(0 298 265)" fill="#888" opacity="0.6" filter="url(#blur1)"/></g>
<path d="M291.8 242.3H305.3V254.2" fill="none" stroke="#9a9a9a" stroke-width="0.7"/>
<path d="M291.8 270.7H329.4" stroke="#8a8a8a" stroke-width="0.9"/>
<path d="M289.6 242.0h2.2" stroke="#999" stroke-width="0.7"/>
<path d="M289.6 250.0h2.2" stroke="#999" stroke-width="0.7"/>
<path d="M289.6 258.1h2.2" stroke="#999" stroke-width="0.7"/>
<path d="M289.6 266.1h2.2" stroke="#999" stroke-width="0.7"/>
<path d="M297.3 270.7v1.8" stroke="#999" stroke-width="0.7"/>
<path d="M306.2 270.7v1.8" stroke="#999" stroke-width="0.7"/>
<path d="M315.2 270.7v1.8" stroke="#999" stroke-width="0.7"/>
<path d="M324.1 270.7v1.8" stroke="#999" stroke-width="0.7"/>
</g>
<text x="320.1" y="246.6" font-size="7.1" text-anchor="middle" font-weight="bold" fill="#111" stroke="#111" stroke-width="0.28" >56%</text>
<g>
<rect x="339.4" y="238.3" width="36.80000000000001" height="32.39999999999998" fill="#fff" stroke="#b8b8b8" stroke-width="0.8"/>
<g clip-path="url(#cp339238)"><ellipse cx="356" cy="262" rx="14" ry="7" transform="rotate(0 356 262)" fill="#aaa" opacity="0.4" filter="url(#blur2)"/><ellipse cx="363" cy="262.2" rx="6" ry="5" transform="rotate(0 363 262.2)" fill="#aaa" opacity="0.7" filter="url(#blur15)"/><ellipse cx="343.5" cy="250" rx="2.6" ry="1.4" transform="rotate(-25 343.5 250)" fill="#666" opacity="0.9" filter="url(#blur06)"/><ellipse cx="344" cy="259" rx="5" ry="3" transform="rotate(-30 344 259)" fill="#bbb" opacity="0.6" filter="url(#blur1)"/><ellipse cx="346.3" cy="263.3" rx="9" ry="3.9" transform="rotate(-40 346.3 263.3)" fill="#111" opacity="1" filter="url(#blur06)"/><ellipse cx="342.5" cy="267" rx="5" ry="3.2" transform="rotate(-20 342.5 267)" fill="#0a0a0a" opacity="1" filter="url(#blur06)"/><ellipse cx="352" cy="264" rx="4" ry="2.5" transform="rotate(0 352 264)" fill="#777" opacity="0.6" filter="url(#blur1)"/></g>
<path d="M339.8 241.5H352.1V252.5L339.8 256.7" fill="none" stroke="#9a9a9a" stroke-width="0.7"/>
<path d="M339.4 270.7H376.2" stroke="#8a8a8a" stroke-width="0.9"/>
<path d="M337.2 241.8h2.2" stroke="#999" stroke-width="0.7"/>
<path d="M337.2 249.9h2.2" stroke="#999" stroke-width="0.7"/>
<path d="M337.2 258.0h2.2" stroke="#999" stroke-width="0.7"/>
<path d="M337.2 266.1h2.2" stroke="#999" stroke-width="0.7"/>
<path d="M344.9 270.7v1.8" stroke="#999" stroke-width="0.7"/>
<path d="M353.6 270.7v1.8" stroke="#999" stroke-width="0.7"/>
<path d="M362.3 270.7v1.8" stroke="#999" stroke-width="0.7"/>
<path d="M371.0 270.7v1.8" stroke="#999" stroke-width="0.7"/>
</g>
<text x="364.4" y="246.6" font-size="7.1" text-anchor="middle" font-weight="bold" fill="#111" stroke="#111" stroke-width="0.28" >3%</text>
<g>
<rect x="407.4" y="238.1" width="38.10000000000002" height="32.599999999999994" fill="#fff" stroke="#b8b8b8" stroke-width="0.8"/>
<g clip-path="url(#cp407238)"><ellipse cx="422" cy="262" rx="13" ry="7" transform="rotate(0 422 262)" fill="#999" opacity="0.45" filter="url(#blur2)"/><ellipse cx="428.5" cy="258.8" rx="4.5" ry="5.5" transform="rotate(0 428.5 258.8)" fill="#777" opacity="0.75" filter="url(#blur15)"/><ellipse cx="413.5" cy="252.6" rx="4.9" ry="2.5" transform="rotate(-3 413.5 252.6)" fill="#0e0e0e" opacity="1" filter="url(#blur06)"/><ellipse cx="418.6" cy="259" rx="7.2" ry="1.9" transform="rotate(-40 418.6 259)" fill="#151515" opacity="1" filter="url(#blur06)"/><ellipse cx="413" cy="266" rx="4" ry="2.5" transform="rotate(0 413 266)" fill="#999" opacity="0.6" filter="url(#blur1)"/></g>
<path d="M407.4 243.2H421.8V254.4" fill="none" stroke="#9a9a9a" stroke-width="0.7"/>
<path d="M407.4 270.7H445.5" stroke="#8a8a8a" stroke-width="0.9"/>
<path d="M405.2 241.6h2.2" stroke="#999" stroke-width="0.7"/>
<path d="M405.2 249.8h2.2" stroke="#999" stroke-width="0.7"/>
<path d="M405.2 257.9h2.2" stroke="#999" stroke-width="0.7"/>
<path d="M405.2 266.1h2.2" stroke="#999" stroke-width="0.7"/>
<path d="M412.9 270.7v1.8" stroke="#999" stroke-width="0.7"/>
<path d="M422.0 270.7v1.8" stroke="#999" stroke-width="0.7"/>
<path d="M431.1 270.7v1.8" stroke="#999" stroke-width="0.7"/>
<path d="M440.2 270.7v1.8" stroke="#999" stroke-width="0.7"/>
</g>
<text x="438.1" y="246.6" font-size="7.1" text-anchor="middle" font-weight="bold" fill="#111" stroke="#111" stroke-width="0.28" >40%</text>
<g>
<rect x="454.4" y="238.1" width="38.10000000000002" height="32.599999999999994" fill="#fff" stroke="#b8b8b8" stroke-width="0.8"/>
<g clip-path="url(#cp454238)"><ellipse cx="470" cy="261" rx="14" ry="7" transform="rotate(0 470 261)" fill="#aaa" opacity="0.4" filter="url(#blur2)"/><ellipse cx="476.4" cy="259.7" rx="6.5" ry="6.5" transform="rotate(0 476.4 259.7)" fill="#bbb" opacity="0.75" filter="url(#blur15)"/><ellipse cx="461.2" cy="250.8" rx="2.7" ry="2.1" transform="rotate(0 461.2 250.8)" fill="#333" opacity="0.9" filter="url(#blur06)"/><ellipse cx="461" cy="251" rx="5" ry="4" transform="rotate(0 461 251)" fill="#bbb" opacity="0.5" filter="url(#blur1)"/><ellipse cx="464" cy="258.6" rx="9.8" ry="2.5" transform="rotate(-36 464 258.6)" fill="#151515" opacity="1" filter="url(#blur06)"/><ellipse cx="458" cy="264.3" rx="4.2" ry="3" transform="rotate(-30 458 264.3)" fill="#111" opacity="1" filter="url(#blur06)"/><ellipse cx="462" cy="266" rx="5" ry="3" transform="rotate(0 462 266)" fill="#999" opacity="0.5" filter="url(#blur1)"/></g>
<path d="M454.4 243.2H468.3V253.3L454.8 258.4" fill="none" stroke="#9a9a9a" stroke-width="0.7"/>
<path d="M454.4 270.7H492.5" stroke="#8a8a8a" stroke-width="0.9"/>
<path d="M452.2 241.6h2.2" stroke="#999" stroke-width="0.7"/>
<path d="M452.2 249.8h2.2" stroke="#999" stroke-width="0.7"/>
<path d="M452.2 257.9h2.2" stroke="#999" stroke-width="0.7"/>
<path d="M452.2 266.1h2.2" stroke="#999" stroke-width="0.7"/>
<path d="M459.9 270.7v1.8" stroke="#999" stroke-width="0.7"/>
<path d="M469.0 270.7v1.8" stroke="#999" stroke-width="0.7"/>
<path d="M478.1 270.7v1.8" stroke="#999" stroke-width="0.7"/>
<path d="M487.2 270.7v1.8" stroke="#999" stroke-width="0.7"/>
</g>
<text x="481.5" y="246.6" font-size="7.1" text-anchor="middle" font-weight="bold" fill="#111" stroke="#111" stroke-width="0.28" >5%</text>
<g>
<rect x="293.4" y="290.0" width="36.80000000000001" height="31.69999999999999" fill="#fff" stroke="#b8b8b8" stroke-width="0.8"/>
<g clip-path="url(#cp293290)"><ellipse cx="308" cy="309" rx="12" ry="6" transform="rotate(-40 308 309)" fill="#999" opacity="0.45" filter="url(#blur2)"/><ellipse cx="301" cy="315.3" rx="5.8" ry="3.8" transform="rotate(-30 301 315.3)" fill="#0a0a0a" opacity="1" filter="url(#blur06)"/><ellipse cx="308.5" cy="307.5" rx="10" ry="3.2" transform="rotate(-47 308.5 307.5)" fill="#121212" opacity="1" filter="url(#blur06)"/><ellipse cx="315.5" cy="301.3" rx="5.5" ry="3.4" transform="rotate(-45 315.5 301.3)" fill="#1a1a1a" opacity="1" filter="url(#blur06)"/><ellipse cx="306" cy="314" rx="5" ry="2.5" transform="rotate(-10 306 314)" fill="#888" opacity="0.5" filter="url(#blur1)"/><ellipse cx="311" cy="308" rx="4" ry="2" transform="rotate(-45 311 308)" fill="#666" opacity="0.6" filter="url(#blur1)"/></g>
<path d="M310.7 306.5L314.1 293.8H326V295.5L319.2 309.4L315.4 310.3Z" fill="none" stroke="#9a9a9a" stroke-width="0.7"/>
<path d="M293.4 321.7H330.2" stroke="#8a8a8a" stroke-width="0.9"/>
<path d="M291.2 293.5h2.2" stroke="#999" stroke-width="0.7"/>
<path d="M291.2 301.4h2.2" stroke="#999" stroke-width="0.7"/>
<path d="M291.2 309.2h2.2" stroke="#999" stroke-width="0.7"/>
<path d="M291.2 317.1h2.2" stroke="#999" stroke-width="0.7"/>
<path d="M298.9 321.7v1.8" stroke="#999" stroke-width="0.7"/>
<path d="M307.6 321.7v1.8" stroke="#999" stroke-width="0.7"/>
<path d="M316.3 321.7v1.8" stroke="#999" stroke-width="0.7"/>
<path d="M325.0 321.7v1.8" stroke="#999" stroke-width="0.7"/>
</g>
<text x="320.0" y="318.3" font-size="7.1" text-anchor="middle" font-weight="bold" fill="#111" stroke="#111" stroke-width="0.28" >18%</text>
<g>
<rect x="340.4" y="290.0" width="36.80000000000001" height="31.69999999999999" fill="#fff" stroke="#b8b8b8" stroke-width="0.8"/>
<g clip-path="url(#cp340290)"><ellipse cx="358" cy="307" rx="14" ry="6" transform="rotate(-38 358 307)" fill="#aaa" opacity="0.45" filter="url(#blur2)"/><ellipse cx="349.7" cy="313.2" rx="8.3" ry="4.4" transform="rotate(-35 349.7 313.2)" fill="#0a0a0a" opacity="1" filter="url(#blur06)"/><ellipse cx="365.3" cy="301" rx="6.5" ry="3.8" transform="rotate(-40 365.3 301)" fill="#555" opacity="0.85" filter="url(#blur1)"/><ellipse cx="357" cy="309" rx="3" ry="2" transform="rotate(-30 357 309)" fill="#666" opacity="0.6" filter="url(#blur1)"/></g>
<path d="M354.3 304.3L362.4 293.3H373.4V296.3L366.6 309.4L360 307.5Z" fill="none" stroke="#9a9a9a" stroke-width="0.7"/>
<path d="M340.4 321.7H377.2" stroke="#8a8a8a" stroke-width="0.9"/>
<path d="M338.2 293.5h2.2" stroke="#999" stroke-width="0.7"/>
<path d="M338.2 301.4h2.2" stroke="#999" stroke-width="0.7"/>
<path d="M338.2 309.2h2.2" stroke="#999" stroke-width="0.7"/>
<path d="M338.2 317.1h2.2" stroke="#999" stroke-width="0.7"/>
<path d="M345.9 321.7v1.8" stroke="#999" stroke-width="0.7"/>
<path d="M354.6 321.7v1.8" stroke="#999" stroke-width="0.7"/>
<path d="M363.3 321.7v1.8" stroke="#999" stroke-width="0.7"/>
<path d="M372.0 321.7v1.8" stroke="#999" stroke-width="0.7"/>
</g>
<text x="364.3" y="318.3" font-size="7.1" text-anchor="middle" font-weight="bold" fill="#111" stroke="#111" stroke-width="0.28" >5%</text>
<g>
<rect x="408.2" y="289.5" width="37.30000000000001" height="32.19999999999999" fill="#fff" stroke="#b8b8b8" stroke-width="0.8"/>
<g clip-path="url(#cp408289)"><ellipse cx="425" cy="308" rx="13" ry="6" transform="rotate(-38 425 308)" fill="#999" opacity="0.45" filter="url(#blur2)"/><ellipse cx="417.8" cy="313.2" rx="7.5" ry="4.6" transform="rotate(-25 417.8 313.2)" fill="#0a0a0a" opacity="1" filter="url(#blur06)"/><ellipse cx="425" cy="308" rx="4" ry="3" transform="rotate(-35 425 308)" fill="#333" opacity="0.9" filter="url(#blur06)"/><ellipse cx="431.1" cy="302.7" rx="5.2" ry="3.3" transform="rotate(-45 431.1 302.7)" fill="#141414" opacity="1" filter="url(#blur06)"/></g>
<path d="M423 303.1L431.1 292.9H440.8L441.6 296.3L433.2 309.8L426 306Z" fill="none" stroke="#9a9a9a" stroke-width="0.7"/>
<path d="M408.2 321.7H445.5" stroke="#8a8a8a" stroke-width="0.9"/>
<path d="M406.0 293.0h2.2" stroke="#999" stroke-width="0.7"/>
<path d="M406.0 301.0h2.2" stroke="#999" stroke-width="0.7"/>
<path d="M406.0 309.1h2.2" stroke="#999" stroke-width="0.7"/>
<path d="M406.0 317.1h2.2" stroke="#999" stroke-width="0.7"/>
<path d="M413.7 321.7v1.8" stroke="#999" stroke-width="0.7"/>
<path d="M422.5 321.7v1.8" stroke="#999" stroke-width="0.7"/>
<path d="M431.4 321.7v1.8" stroke="#999" stroke-width="0.7"/>
<path d="M440.2 321.7v1.8" stroke="#999" stroke-width="0.7"/>
</g>
<text x="437.9" y="318.3" font-size="7.1" text-anchor="middle" font-weight="bold" fill="#111" stroke="#111" stroke-width="0.28" >16%</text>
<g>
<rect x="456.2" y="289.5" width="37.30000000000001" height="32.19999999999999" fill="#fff" stroke="#b8b8b8" stroke-width="0.8"/>
<g clip-path="url(#cp456289)"><ellipse cx="472" cy="308" rx="13" ry="6" transform="rotate(-38 472 308)" fill="#aaa" opacity="0.4" filter="url(#blur2)"/><ellipse cx="465.5" cy="314.1" rx="8.2" ry="4.4" transform="rotate(-35 465.5 314.1)" fill="#0a0a0a" opacity="1" filter="url(#blur06)"/><ellipse cx="480.3" cy="303.5" rx="2.3" ry="4.3" transform="rotate(20 480.3 303.5)" fill="#444" opacity="0.85" filter="url(#blur06)"/><ellipse cx="478" cy="306" rx="2.5" ry="2" transform="rotate(0 478 306)" fill="#888" opacity="0.6" filter="url(#blur1)"/></g>
<path d="M471 302.7L479.1 292.5H488.8L489.6 295.9L481.6 309.8L474.4 306.9Z" fill="none" stroke="#9a9a9a" stroke-width="0.7"/>
<path d="M456.2 321.7H493.5" stroke="#8a8a8a" stroke-width="0.9"/>
<path d="M454.0 293.0h2.2" stroke="#999" stroke-width="0.7"/>
<path d="M454.0 301.0h2.2" stroke="#999" stroke-width="0.7"/>
<path d="M454.0 309.1h2.2" stroke="#999" stroke-width="0.7"/>
<path d="M454.0 317.1h2.2" stroke="#999" stroke-width="0.7"/>
<path d="M461.7 321.7v1.8" stroke="#999" stroke-width="0.7"/>
<path d="M470.5 321.7v1.8" stroke="#999" stroke-width="0.7"/>
<path d="M479.4 321.7v1.8" stroke="#999" stroke-width="0.7"/>
<path d="M488.2 321.7v1.8" stroke="#999" stroke-width="0.7"/>
</g>
<text x="481.4" y="318.3" font-size="7.1" text-anchor="middle" font-weight="bold" fill="#111" stroke="#111" stroke-width="0.28" >5%</text>
<path d="M281.9 260.5V279.1H301.7" stroke="#333" stroke-width="1.0" fill="none"/>
<path d="M279.79999999999995 261.0L281.9 256.5L284.0 261.0Z" fill="#111"/>
<path d="M301.0 277.3L305.2 279.1L301.0 280.90000000000003Z" fill="#111"/>
<path d="M281.9 318.1V333.8H301.7" stroke="#333" stroke-width="1.0" fill="none"/>
<path d="M279.79999999999995 318.6L281.9 314.1L284.0 318.6Z" fill="#111"/>
<path d="M301.0 332.0L305.2 333.8L301.0 335.6Z" fill="#111"/>
<path d="M396.3 260.5V278.7H416.1" stroke="#333" stroke-width="1.0" fill="none"/>
<path d="M394.2 261.0L396.3 256.5L398.40000000000003 261.0Z" fill="#111"/>
<path d="M415.40000000000003 276.9L419.6 278.7L415.40000000000003 280.5Z" fill="#111"/>
<path d="M396.5 317.9V333.8H416.4" stroke="#333" stroke-width="1.0" fill="none"/>
<path d="M394.4 318.4L396.5 313.9L398.6 318.4Z" fill="#111"/>
<path d="M415.7 332.0L419.9 333.8L415.7 335.6Z" fill="#111"/>
<text transform="translate(284.5,246.0) rotate(-90)" font-size="6.5" text-anchor="middle" font-weight="normal" fill="#111" stroke="#111" stroke-width="0.12">GPA</text>
<text transform="translate(284.5,299.0) rotate(-90)" font-size="6.5" text-anchor="middle" font-weight="normal" fill="#111" stroke="#111" stroke-width="0.12">CD42</text>
<text transform="translate(398.9,245.8) rotate(-90)" font-size="6.5" text-anchor="middle" font-weight="normal" fill="#111" stroke="#111" stroke-width="0.12">GPA</text>
<text transform="translate(398.9,297.7) rotate(-90)" font-size="6.5" text-anchor="middle" font-weight="normal" fill="#111" stroke="#111" stroke-width="0.12">CD42</text>
<text x="318.6" y="280.7" font-size="6.7" text-anchor="middle" font-weight="normal" fill="#000" stroke="#000" stroke-width="0.22" >CD41</text>
<text x="318.6" y="336.5" font-size="6.7" text-anchor="middle" font-weight="normal" fill="#000" stroke="#000" stroke-width="0.22" >CD41</text>
<text x="433.6" y="280.4" font-size="6.7" text-anchor="middle" font-weight="normal" fill="#000" stroke="#000" stroke-width="0.22" >CD41</text>
<text x="433.6" y="336.6" font-size="6.7" text-anchor="middle" font-weight="normal" fill="#000" stroke="#000" stroke-width="0.22" >CD41</text>
<text x="0.5" y="10.5" font-size="10.5" text-anchor="start" font-weight="bold" fill="#000" stroke="#000" stroke-width="0.28" >A</text>
<text x="256" y="10.5" font-size="10.5" text-anchor="start" font-weight="bold" fill="#000" stroke="#000" stroke-width="0.28" >C</text>
<text x="0.5" y="132" font-size="10.5" text-anchor="start" font-weight="bold" fill="#000" stroke="#000" stroke-width="0.28" >B</text>
<text x="256" y="132.7" font-size="10.5" text-anchor="start" font-weight="bold" fill="#000" stroke="#000" stroke-width="0.28" >D</text>
<text x="0.5" y="213.8" font-size="10.5" text-anchor="start" font-weight="bold" fill="#000" stroke="#000" stroke-width="0.28" >E</text>
<text x="256" y="213.2" font-size="10.5" text-anchor="start" font-weight="bold" fill="#000" stroke="#000" stroke-width="0.28" >F</text>
<text x="0.5" y="358.2" font-size="10.5" text-anchor="start" font-weight="bold" fill="#000" stroke="#000" stroke-width="0.28" >G</text>
<text x="256" y="357.7" font-size="10.5" text-anchor="start" font-weight="bold" fill="#000" stroke="#000" stroke-width="0.28" >H</text>
</g>
</svg>
</body></html>
